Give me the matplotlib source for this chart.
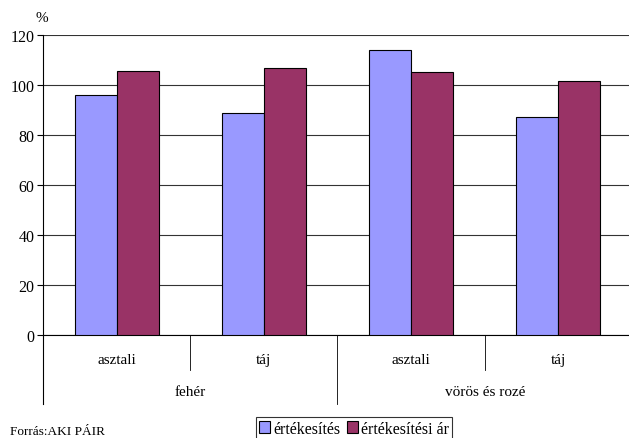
import matplotlib
matplotlib.use("Agg")
import matplotlib.pyplot as plt
import matplotlib.transforms as mtransforms
import numpy as np

plt.rcParams['font.family'] = ['Liberation Serif', 'DejaVu Serif']

# data
types = ["asztali", "táj", "asztali", "táj"]
groups = ["fehér", "vörös és rozé"]
ertekesites = [96, 89, 114, 87.3]
ertekesitesi_ar = [105.5, 107, 105.2, 101.7]
series_names = ["értékesítés", "értékesítési ár"]
yticks = [0, 20, 40, 60, 80, 100, 120]

fig = plt.figure(figsize=(6.29, 4.39), dpi=100)
ax = fig.add_axes([43 / 629, 1 - 336 / 439, 586 / 629, 300 / 439])

x = np.arange(len(types))
w = 0.285
b1 = ax.bar(x - w / 2, ertekesites, w, color="#9999FF", edgecolor="black",
            linewidth=0.8, zorder=3, label=series_names[0])
b2 = ax.bar(x + w / 2, ertekesitesi_ar, w, color="#993366", edgecolor="black",
            linewidth=0.8, zorder=3, label=series_names[1])

ax.set_ylim(0, 120)
ax.set_xlim(-0.5, 3.48)
ax.set_yticks(yticks)
ax.tick_params(axis='y', labelsize=11.5, length=4, width=0.8, direction='out', pad=2)
ax.set_xticks([])
ax.grid(axis='y', color='#333333', linewidth=0.8, zorder=0)
for s in ["top", "right"]:
    ax.spines[s].set_visible(False)
ax.spines["left"].set_linewidth(0.8)
ax.spines["bottom"].set_linewidth(0.8)

# multi-level category axis below
trans = mtransforms.blended_transform_factory(ax.transData, ax.transAxes)
ax.plot([-0.5, -0.5], [0, -0.23], color="black", lw=0.8, transform=trans, clip_on=False)
for xs in [0.5, 2.5]:
    ax.plot([xs, xs], [0, -0.117], color="black", lw=0.6, transform=trans, clip_on=False)
ax.plot([1.5, 1.5], [0, -0.23], color="black", lw=0.6, transform=trans, clip_on=False)

for xi, t in zip(x, types):
    ax.text(xi, -0.083, t, transform=trans, ha='center', va='center', fontsize=11)
for gi, g in enumerate(groups):
    ax.text(gi * 2 + 0.5, -0.19, g, transform=trans, ha='center', va='center', fontsize=11)

fig.text(42 / 629, 1 - 18 / 439, "%", ha='center', va='center', fontsize=11)

leg = fig.legend(handles=[b1, b2], loc='lower center', bbox_to_anchor=(354 / 629, -0.004),
                 ncol=2, frameon=True, fancybox=False, edgecolor='black', fontsize=11.5,
                 handlelength=0.7, handleheight=0.7, handletextpad=0.2,
                 columnspacing=0.4, borderpad=0.2, borderaxespad=0)
leg.get_frame().set_linewidth(0.8)

fig.text(10 / 629, 1 - 426 / 439, "Forrás:AKI PÁIR", ha='left', va='top', fontsize=9.5)

fig.savefig("out.png", dpi=100)
